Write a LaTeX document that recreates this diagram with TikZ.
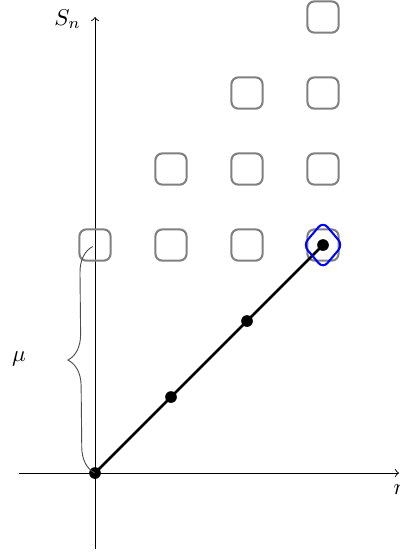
\documentclass[tikz,border=0pt]{standalone}
\usepackage{amsmath, amssymb}
\usepackage{tikz}
\usetikzlibrary{positioning, shapes.geometric, decorations.pathreplacing}

\begin{document}
\begin{tikzpicture}[x=1.17cm, y=1.17cm,
      ax/.style={->, black},
      cell/.style={draw=gray, line width=0.9pt, rounded corners=3pt, minimum size=0.48cm, inner sep=0pt},
      pt/.style={circle, fill=black, minimum size=0.18cm, inner sep=0pt},
      walk/.style={very thick, black},
      hit/.style={draw=blue, line width=0.9pt, diamond, rounded corners=3pt, minimum width=0.62cm, minimum height=0.73cm, inner sep=0pt},
      brc/.style={decorate, decoration={brace, amplitude=0.4cm}, black!70}]
      \useasboundingbox (-1.25,-1.039) rectangle (4.013,6.224);
      % axes
      \coordinate (xl) at (-1,0); \coordinate (xr) at (4,0);
      \coordinate (yb) at (0,-1); \coordinate (yt) at (0,6);
      \draw[ax] (xl) -- (xr); \draw[ax] (yb) -- (yt);
      \node (xlab) at (4.02,-0.22) {$n$};
      \node (ylab) at (-0.36,5.97) {$S_n$};
      % cells
      \node[cell] (c00) at (0,3){}; \node[cell] (c10) at (1,3){};
      \node[cell] (c20) at (2,3){}; \node[cell] (c30) at (3,3){};
      \node[cell] (c11) at (1,4){}; \node[cell] (c21) at (2,4){}; \node[cell] (c31) at (3,4){};
      \node[cell] (c22) at (2,5){}; \node[cell] (c32) at (3,5){};
      \node[cell] (c33) at (3,6){};
      % walk
      \node[pt] (p0) at (0,0){}; \node[pt] (p1) at (1,1){};
      \node[pt] (p2) at (2,2){}; \node[pt] (p3) at (3,3){};
      \draw[walk] (p0.center)--(p1.center)--(p2.center)--(p3.center);
      \node[hit] (goal) at (p3) {};
      % brace
      \coordinate (b0) at (0,0); \coordinate (b1) at (-0.03,2.98);
      \draw[brc] (b0) -- (b1);
      \node (mu) at (-1,1.5) {$\mu$};
    \end{tikzpicture}
\end{document}
